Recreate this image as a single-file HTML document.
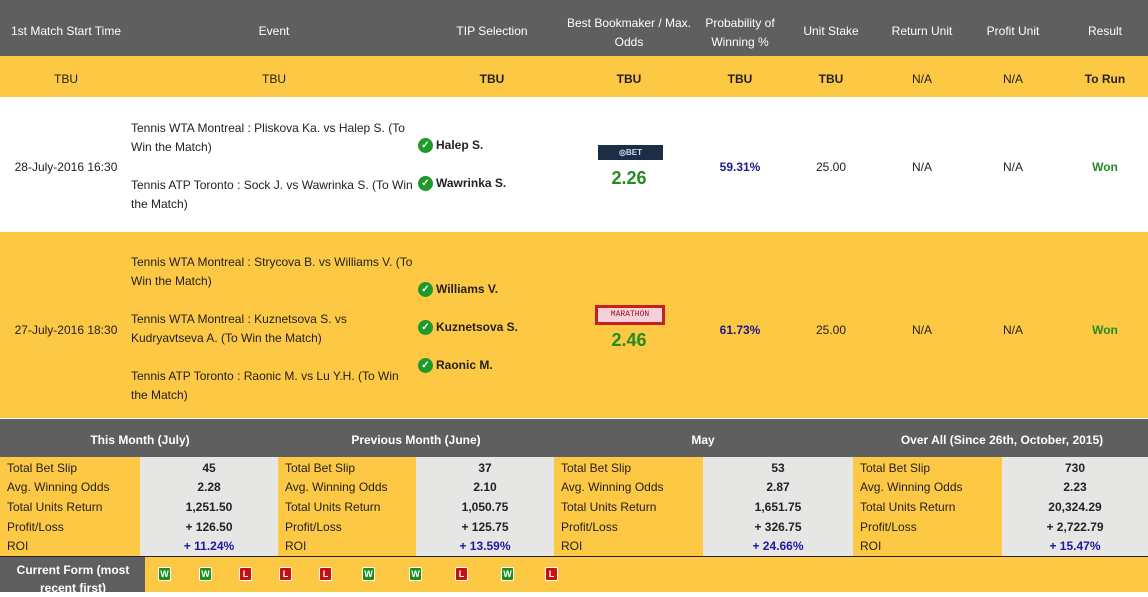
<!DOCTYPE html>
<html><head><meta charset="utf-8"><style>
*{margin:0;padding:0;box-sizing:border-box}
body{width:1148px;height:592px;overflow:hidden;background:#fff;font-family:"Liberation Sans",Arial,sans-serif;font-size:12px;color:#222;position:relative}
.a{position:absolute}
.c{position:absolute;text-align:center;transform:translateX(-50%);white-space:nowrap}
.hd{color:#fff;font-size:12px}
.b{font-weight:bold}
.chk{display:inline-block;width:15px;height:15px;border-radius:50%;background:#1e9a2a;color:#fff;font-size:10px;line-height:15px;text-align:center;font-weight:bold;vertical-align:1px;margin-right:3px}
.sel{position:absolute;left:418px;font-weight:bold;white-space:nowrap}
.ev{position:absolute;left:131px;width:285px;line-height:19px}
.odds{color:#228b22;font-weight:bold;font-size:18px}
.prob{color:#1a1a8c;font-weight:bold}
.won{color:#228b22;font-weight:bold}
.st{position:absolute;height:19.6px;line-height:19.6px}
.lab{padding-left:7px}
.val{text-align:center;font-weight:bold}
.roi{color:#1a1aa0}
.fb{position:absolute;top:567px;width:13px;height:14px;border:1px solid #fff;border-radius:2px;color:#fff;font-size:9px;font-weight:bold;line-height:12px;text-align:center}
.W{background:#1e8f1e}.L{background:#c81010}
</style></head><body>
<div class="a" style="left:0;top:0;width:1148px;height:56px;background:#5f5f5f"></div>
<div class="a" style="left:0;top:56px;width:1148px;height:41px;background:#fdc843"></div>
<div class="a" style="left:0;top:232px;width:1148px;height:186px;background:#fdc843"></div>
<div class="a" style="left:0;top:419px;width:1148px;height:38px;background:#5f5f5f"></div>

<div class="c hd" style="left:66px;top:24px">1st Match Start Time</div>
<div class="c hd" style="left:274px;top:24px">Event</div>
<div class="c hd" style="left:492px;top:24px">TIP Selection</div>
<div class="c hd" style="left:629px;top:14px;line-height:19px">Best Bookmaker / Max.<br>Odds</div>
<div class="c hd" style="left:740px;top:14px;line-height:19px">Probability of<br>Winning %</div>
<div class="c hd" style="left:831px;top:24px">Unit Stake</div>
<div class="c hd" style="left:922px;top:24px">Return Unit</div>
<div class="c hd" style="left:1013px;top:24px">Profit Unit</div>
<div class="c hd" style="left:1105px;top:24px">Result</div>

<div class="c" style="left:66px;top:72px">TBU</div>
<div class="c" style="left:274px;top:72px">TBU</div>
<div class="c b" style="left:492px;top:72px">TBU</div>
<div class="c b" style="left:629px;top:72px">TBU</div>
<div class="c b" style="left:740px;top:72px">TBU</div>
<div class="c b" style="left:831px;top:72px">TBU</div>
<div class="c" style="left:922px;top:72px">N/A</div>
<div class="c" style="left:1013px;top:72px">N/A</div>
<div class="c b" style="left:1105px;top:72px">To Run</div>

<!-- row 1 -->
<div class="c" style="left:66px;top:160px">28-July-2016 16:30</div>
<div class="ev" style="top:119px">Tennis WTA Montreal : Pliskova Ka. vs Halep S. (To Win the Match)</div>
<div class="ev" style="top:176px">Tennis ATP Toronto : Sock J. vs Wawrinka S. (To Win the Match)</div>
<div class="sel" style="top:138px"><span class="chk">✓</span>Halep S.</div>
<div class="sel" style="top:176px"><span class="chk">✓</span>Wawrinka S.</div>
<div class="a" style="left:598px;top:145px;width:65px;height:15px;background:#1c2e45;color:#cde;font-size:8px;font-weight:bold;text-align:center;line-height:15px">◎BET</div>
<div class="c odds" style="left:629px;top:168px">2.26</div>
<div class="c prob" style="left:740px;top:160px">59.31%</div>
<div class="c" style="left:831px;top:160px">25.00</div>
<div class="c" style="left:922px;top:160px">N/A</div>
<div class="c" style="left:1013px;top:160px">N/A</div>
<div class="c won" style="left:1105px;top:160px">Won</div>

<!-- row 2 -->
<div class="c" style="left:66px;top:323px">27-July-2016 18:30</div>
<div class="ev" style="top:253px">Tennis WTA Montreal : Strycova B. vs Williams V. (To Win the Match)</div>
<div class="ev" style="top:310px">Tennis WTA Montreal : Kuznetsova S. vs Kudryavtseva A. (To Win the Match)</div>
<div class="ev" style="top:367px">Tennis ATP Toronto : Raonic M. vs Lu Y.H. (To Win the Match)</div>
<div class="sel" style="top:282px"><span class="chk">✓</span>Williams V.</div>
<div class="sel" style="top:320px"><span class="chk">✓</span>Kuznetsova S.</div>
<div class="sel" style="top:358px"><span class="chk">✓</span>Raonic M.</div>
<div class="a" style="left:595px;top:305px;width:70px;height:20px;background:#c62020;padding:3px"><div style="background:#f4d0d8;height:14px;color:#a01020;font-size:8px;font-family:'Liberation Mono',monospace;text-align:center;line-height:14px">MARATHON</div></div>
<div class="c odds" style="left:629px;top:330px">2.46</div>
<div class="c prob" style="left:740px;top:323px">61.73%</div>
<div class="c" style="left:831px;top:323px">25.00</div>
<div class="c" style="left:922px;top:323px">N/A</div>
<div class="c" style="left:1013px;top:323px">N/A</div>
<div class="c won" style="left:1105px;top:323px">Won</div>

<!-- stats header -->
<div class="c hd b" style="left:140px;top:433px">This Month (July)</div>
<div class="c hd b" style="left:416px;top:433px">Previous Month (June)</div>
<div class="c hd b" style="left:703px;top:433px">May</div>
<div class="c hd b" style="left:1002px;top:433px">Over All (Since 26th, October, 2015)</div>

<div class="a" style="left:0;top:457px;width:1148px;height:99px;background:#fdc843"></div>
<div class="a" style="left:140px;top:457px;width:138px;height:99px;background:#e6e6e4"></div>
<div class="a" style="left:416px;top:457px;width:138px;height:99px;background:#e6e6e4"></div>
<div class="a" style="left:703px;top:457px;width:150px;height:99px;background:#e6e6e4"></div>
<div class="a" style="left:1002px;top:457px;width:146px;height:99px;background:#e6e6e4"></div>

<div id="stats"></div>
<script>
var groups=[[0,140,278,["45","2.28","1,251.50","+ 126.50","+ 11.24%"]],[278,416,554,["37","2.10","1,050.75","+ 125.75","+ 13.59%"]],[554,703,853,["53","2.87","1,651.75","+ 326.75","+ 24.66%"]],[853,1002,1148,["730","2.23","20,324.29","+ 2,722.79","+ 15.47%"]]];
var labs=["Total Bet Slip","Avg. Winning Odds","Total Units Return","Profit/Loss","ROI"];
var h="";
groups.forEach(function(g){for(var i=0;i<5;i++){var t=458.5+i*19.7;
h+='<div class="st lab" style="left:'+g[0]+'px;top:'+t+'px;width:'+(g[1]-g[0])+'px">'+labs[i]+'</div>';
h+='<div class="st val'+(i==4?' roi':'')+'" style="left:'+g[1]+'px;top:'+t+'px;width:'+(g[2]-g[1])+'px">'+g[3][i]+'</div>';}});
document.getElementById("stats").innerHTML=h;
</script>

<div class="a" style="left:0;top:556px;width:1148px;height:1px;background:#222"></div>
<div class="a" style="left:0;top:557px;width:145px;height:35px;background:#5f5f5f"></div>
<div class="a" style="left:145px;top:557px;width:1003px;height:35px;background:#fdc843"></div>
<div class="c hd b" style="left:73px;top:561px;line-height:18px">Current Form (most<br>recent first)</div>
<div class="fb W" style="left:158px">W</div>
<div class="fb W" style="left:199px">W</div>
<div class="fb L" style="left:239px">L</div>
<div class="fb L" style="left:279px">L</div>
<div class="fb L" style="left:319px">L</div>
<div class="fb W" style="left:362px">W</div>
<div class="fb W" style="left:409px">W</div>
<div class="fb L" style="left:455px">L</div>
<div class="fb W" style="left:501px">W</div>
<div class="fb L" style="left:545px">L</div>
</body></html>
